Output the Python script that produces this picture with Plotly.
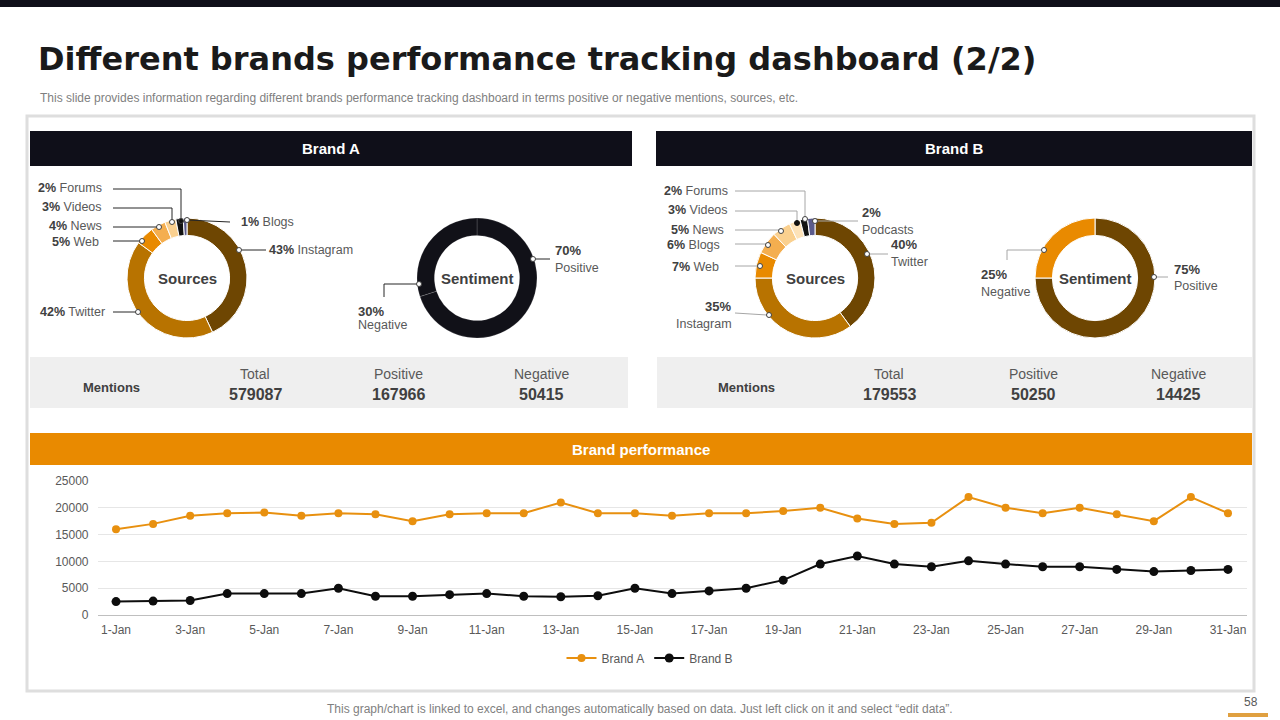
import plotly.graph_objects as go

W, H = 1280, 720
def px(x): return x / W
def py(y): return 1 - y / H

# ---------------- data ----------------
days = [f"{d}-Jan" for d in range(1, 32)]
brand_a = [16000, 17000, 18500, 19000, 19100, 18500, 19000, 18800, 17500, 18800,
           19000, 19000, 21000, 19000, 19000, 18500, 19000, 19000, 19400, 20000,
           18000, 17000, 17200, 22000, 20000, 19000, 20000, 18800, 17500, 22000, 19000]
brand_b = [2500, 2600, 2700, 4000, 4000, 4000, 5000, 3500, 3500, 3800,
           4000, 3500, 3400, 3600, 5000, 4000, 4500, 5000, 6500, 9500,
           11000, 9500, 9000, 10100, 9500, 9000, 9000, 8500, 8100, 8300, 8500]
x_tick_labels = days[::2]
y_ticks = [0, 5000, 10000, 15000, 20000, 25000]

a_src_labels = ["Instagram", "Twitter", "Web", "News", "Videos", "Forums", "Blogs"]
a_src_values = [43, 42, 5, 4, 3, 2, 1]
a_sent_labels = ["Positive", "Negative"]
a_sent_values = [70, 30]

b_src_labels = ["Twitter", "Instagram", "Web", "Blogs", "News", "Videos", "Forums", "Podcasts"]
b_src_values = [40, 35, 7, 6, 5, 3, 2, 2]
b_sent_labels = ["Positive", "Negative"]
b_sent_values = [75, 25]

mention_heads = ["Total", "Positive", "Negative"]
a_mentions = [579087, 167966, 50415]
b_mentions = [179553, 50250, 14425]

# ---------------- styles ----------------
DARK = "#0f0f19"
ORANGE = "#E98A00"
BROWN = "#6E4602"
GOLD = "#B87300"
LORANGE = "#F4AE4F"
CREAM = "#FAD08F"
LCREAM = "#FDE2B8"
SLATE = "#5B5B8C"
TXT = "#404040"
TXT2 = "#595959"
FONT = "Liberation Sans"

a_src_colors = [BROWN, GOLD, ORANGE, LORANGE, CREAM, "#111111", SLATE]
b_src_colors = [BROWN, GOLD, ORANGE, LORANGE, CREAM, LCREAM, "#111111", SLATE]

fig = go.Figure()

R = 60
def pie_domain(cx, cy, r=R):
    return dict(x=[px(cx - r), px(cx + r)], y=[py(cy + r), py(cy - r)])

def add_pie(labels, values, colors, cx, cy, line_color="white", line_w=1):
    fig.add_trace(go.Pie(labels=labels, values=values, hole=0.71, sort=False,
                         direction="clockwise", rotation=0, textinfo="none",
                         marker=dict(colors=colors, line=dict(color=line_color, width=line_w)),
                         domain=pie_domain(cx, cy), showlegend=False, hoverinfo="label+percent"))

add_pie(a_src_labels, a_src_values, a_src_colors, 187, 278)
add_pie(a_sent_labels, a_sent_values, ["#111118", "#111118"], 477, 278, "rgba(255,255,255,0.25)", 0.6)
add_pie(b_src_labels, b_src_values, b_src_colors, 815, 278)
add_pie(b_sent_labels, b_sent_values, [BROWN, ORANGE], 1095, 278)

# line chart
fig.add_trace(go.Scatter(x=days, y=brand_a, name="Brand A", mode="lines+markers",
                         line=dict(color="#E8900F", width=2), marker=dict(size=8, color="#E8900F")))
fig.add_trace(go.Scatter(x=days, y=brand_b, name="Brand B", mode="lines+markers",
                         line=dict(color="#0d0d0d", width=2), marker=dict(size=9, color="#0d0d0d")))

shapes = []
def rect(x0, y0, x1, y1, fill, line=None, lw=0, layer="below"):
    shapes.append(dict(type="rect", xref="paper", yref="paper", x0=px(x0), x1=px(x1),
                       y0=py(y1), y1=py(y0), fillcolor=fill, layer=layer,
                       line=dict(color=line or fill, width=lw)))

def poly(points, color, w=1):
    path = "M " + " L ".join(f"{px(x)},{py(y)}" for x, y in points)
    shapes.append(dict(type="path", xref="paper", yref="paper", path=path,
                       line=dict(color=color, width=w), layer="above"))

def dot(x, y, fill="white", edge="#404040", r=2.5):
    shapes.append(dict(type="circle", xref="paper", yref="paper",
                       x0=px(x - r), x1=px(x + r), y0=py(y + r), y1=py(y - r),
                       fillcolor=fill, line=dict(color=edge, width=1), layer="above"))

rect(0, 0, 1280, 7, DARK)
rect(27, 116, 1254, 691, "white", "#dedede", 3)
rect(30, 131, 632, 166, DARK)
rect(656, 131, 1252, 166, DARK)
rect(30, 357, 628, 408, "#efefef")
rect(657, 357, 1252, 408, "#efefef")
rect(30, 433, 1252, 465, ORANGE)
rect(1228, 713, 1268, 717, "#E0A040")

ann = []
def text(x, y, s, size=12, color=TXT2, anchor="left", bold=False, family=FONT):
    if bold:
        s = f"<b>{s}</b>"
    ann.append(dict(x=px(x), y=py(y), xref="paper", yref="paper", text=s, showarrow=False,
                    xanchor=anchor, yanchor="middle", font=dict(size=size, color=color, family=family)))

def lab(x, y, pct, name, anchor="right"):
    text(x, y, f"<b style='color:{TXT}'>{pct}%</b> {name}", 12.5, TXT2, anchor)

# Title etc.
text(36, 59, "Different brands performance tracking dashboard (2/2)", 32, "#1a1a1a", bold=True,
     family="DejaVu Sans")
text(38, 98, "This slide provides information regarding different brands performance tracking dashboard "
             "in terms positive or negative mentions, sources, etc.", 12, "#7f7f7f")
text(640, 709, "This graph/chart is linked to excel, and changes automatically based on data. "
               "Just left click on it and select \u201cedit data\u201d.", 12, "#7f7f7f", "center")
text(1251, 702, "58", 12, TXT2, "center")

text(331, 149, "Brand A", 15, "white", "center", True)
text(954, 149, "Brand B", 15, "white", "center", True)
text(641, 449, "Brand performance", 15, "white", "center", True)

for cx, name in [(187, "Sources"), (477, "Sentiment"), (815, "Sources"), (1095, "Sentiment")]:
    text(cx, 278, name, 15, TXT, "center", True)

# Mentions rows
text(111, 387, "Mentions", 13, TXT, "center", True)
text(746, 387, "Mentions", 13, TXT, "center", True)
for i, (xa, xb) in enumerate([(255, 889), (398, 1033), (541, 1178)]):
    text(xa, 374, mention_heads[i], 14, TXT2, "center")
    text(xa, 394, f"{a_mentions[i]}", 16, TXT, "center", True)
    text(xb, 374, mention_heads[i], 14, TXT2, "center")
    text(xb, 394, f"{b_mentions[i]}", 16, TXT, "center", True)

# Brand A sources labels
pa = dict(zip(a_src_labels, a_src_values))
LC = "#262626"
lab(104, 188, pa["Forums"], "Forums"); poly([(113, 189), (181, 189), (181, 219)], LC); dot(181, 221, "#111")
lab(104, 207, pa["Videos"], "Videos"); poly([(113, 208), (172, 208), (172, 220)], LC); dot(172, 222)
lab(104, 226, pa["News"], "News"); poly([(113, 227), (157, 227)], LC); dot(159, 227)
lab(101, 242, pa["Web"], "Web"); poly([(113, 241), (140, 241)], LC); dot(142, 241)
lab(107, 312, pa["Twitter"], "Twitter"); poly([(113, 312), (136, 312)], LC); dot(138, 312)
lab(239, 222, pa["Blogs"], "Blogs", "left"); poly([(187, 220), (230, 222)], LC); dot(187, 220)
lab(267, 250, pa["Instagram"], "Instagram", "left"); poly([(241, 250), (266, 250)], LC); dot(239, 250)

# Brand A sentiment
sa = dict(zip(a_sent_labels, a_sent_values))
poly([(535, 259), (550, 259)], LC); dot(533, 259)
text(553, 250, f"{sa['Positive']}%", 13, TXT, bold=True); text(553, 268, "Positive", 12.5, TXT2)
poly([(417, 284), (384, 284), (384, 297)], LC); dot(419, 284)
text(356, 311, f"{sa['Negative']}%", 13, TXT, bold=True); text(356, 325, "Negative", 12.5, TXT2)

# Brand B sources labels
pb = dict(zip(b_src_labels, b_src_values))
LG = "#a6a6a6"
lab(730, 191, pb["Forums"], "Forums"); poly([(735, 191), (805, 191), (805, 217)], LG); dot(805, 219)
lab(730, 210, pb["Videos"], "Videos"); poly([(735, 211), (797, 211), (797, 221)], LG); dot(797, 223, "#111", "#111")
lab(726, 230, pb["News"], "News"); poly([(735, 230), (779, 230)], LG); dot(781, 231)
lab(722, 245, pb["Blogs"], "Blogs"); poly([(735, 244), (766, 244)], LG); dot(768, 245)
lab(721, 267, pb["Web"], "Web"); poly([(735, 266), (758, 266)], LG); dot(760, 266)
text(733, 306, f"{pb['Instagram']}%", 13, TXT, "right", True); text(734, 324, "Instagram", 12.5, TXT2, "right")
poly([(735, 313), (767, 315)], LG); dot(769, 315)
poly([(869, 254), (888, 254)], LG); dot(867, 254)
text(889, 244, f"{pb['Twitter']}%", 13, TXT, bold=True); text(889, 262, "Twitter", 12.5, TXT2)
poly([(817, 221), (858, 221)], LG); dot(815, 221)
text(860, 212, f"{pb['Podcasts']}%", 13, TXT, bold=True); text(860, 230, "Podcasts", 12.5, TXT2)

# Brand B sentiment
sb = dict(zip(b_sent_labels, b_sent_values))
poly([(1042, 250), (1007, 250), (1007, 260)], LG); dot(1044, 250)
text(979, 274, f"{sb['Negative']}%", 13, TXT, bold=True); text(979, 292, "Negative", 12.5, TXT2)
poly([(1156, 277), (1168, 277)], LG); dot(1154, 277)
text(1172, 269, f"{sb['Positive']}%", 13, TXT, bold=True); text(1172, 286, "Positive", 12.5, TXT2)

fig.update_layout(
    width=W, height=H, margin=dict(l=0, r=0, t=0, b=0, pad=0, autoexpand=False),
    paper_bgcolor="white", plot_bgcolor="rgba(0,0,0,0)",
    shapes=shapes, annotations=ann,
    font=dict(family=FONT, color=TXT2, size=12),
    xaxis=dict(domain=[px(97.5), px(1246.5)], type="category", range=[-0.5, 30.5],
               tickmode="array", tickvals=x_tick_labels, ticktext=x_tick_labels,
               showgrid=False, showline=True, linecolor="#bfbfbf", linewidth=1,
               ticks="", ticklabelstandoff=4, automargin=False,
               tickfont=dict(size=12, color=TXT2, family=FONT), fixedrange=True),
    yaxis=dict(domain=[py(615), py(481)], range=[0, 25000], tickmode="array",
               tickvals=y_ticks, ticktext=[str(v) for v in y_ticks],
               showgrid=True, gridcolor="#e6e6e6", zeroline=False, showline=False,
               ticks="", ticklabelstandoff=8, automargin=False,
               tickfont=dict(size=12, color=TXT2, family=FONT), fixedrange=True),
    showlegend=True,
    legend=dict(orientation="h", x=px(650), xanchor="center", y=py(658), yanchor="middle",
                font=dict(size=12, color=TXT2, family=FONT), bgcolor="rgba(0,0,0,0)"),
)

fig.write_html("out.html")
